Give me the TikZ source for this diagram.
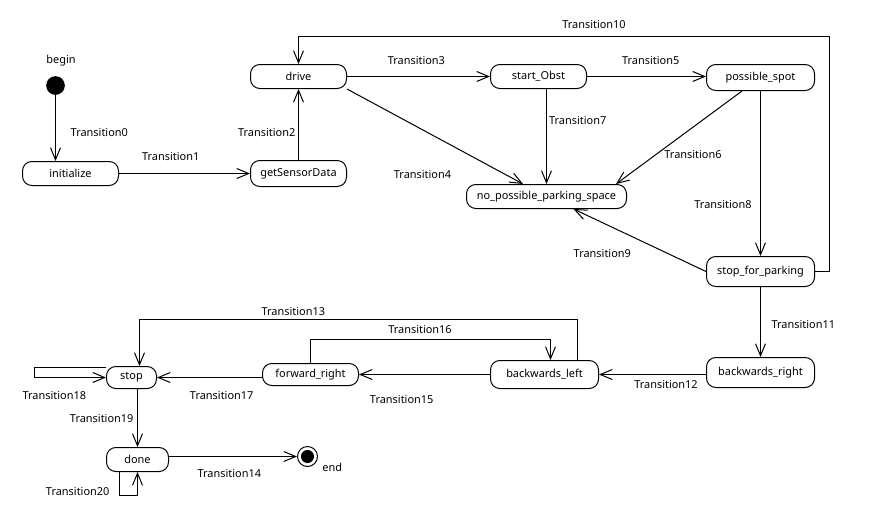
\documentclass[tikz,border=0pt]{standalone}
\usepackage{fontspec}
\setmainfont{Noto Sans}
\usetikzlibrary{arrows.meta,calc}
\begin{document}
\begin{tikzpicture}[x=0.75pt,y=-0.75pt,
  every node/.style={font=\fontsize{8.2}{10}\selectfont},
  state/.style={draw, rounded corners=7pt, inner sep=0pt, line width=0.75pt},
  box/.style 2 args={minimum width=#1*0.75pt, minimum height=#2*0.75pt},
  lbl/.style={inner sep=0pt},
  tr/.style={line width=0.75pt, -{Straight Barb[length=9pt,width=7.5pt,line width=0.75pt]}}]

% canvas
\fill[white] (0,0) rectangle (873,522);
\useasboundingbox (0,0) rectangle (873,522);

% pseudo states
\node[circle, fill=black, inner sep=0pt, minimum size=18.7*0.75pt] (begin) at (55.5,85.5) {};
\node[circle, draw, line width=0.75pt, inner sep=0pt, minimum size=20*0.75pt,
      path picture={\fill (path picture bounding box.center) circle (4.9pt);}] (endc) at (307.5,456.5) {};
\node[lbl] (beginlbl) at (61,61) {begin};
\node[lbl] (endlbl) at (332.3,467.7) {end};

% states
\node[state, box={96}{24}]  (init)   at (70.5,173.5)  {initialize};
\node[state, box={96}{26}]  (gsd)    at (298.5,173.5) {getSensorData};
\node[state, box={96}{24}]  (drive)  at (298.5,76.5)  {drive};
\node[state, box={96}{24}]  (sobst)  at (538.5,76.5)  {start\_Obst};
\node[state, box={108}{26}] (pspot)  at (760.5,77.5)  {possible\_spot};
\node[state, box={160}{24}] (nops)   at (546.5,196.5) {no\_possible\_parking\_space};
\node[state, box={108}{30}] (sfp)    at (760.5,271.5) {stop\_for\_parking};
\node[state, box={108}{30}] (bright) at (760.5,372.5) {backwards\_right};
\node[state, box={108}{28}] (bleft)  at (544.5,374.5) {backwards\_left};
\node[state, box={96}{22}]  (fright) at (310.5,374.5) {forward\_right};
\node[state, box={50}{22}]  (stop)   at (131.5,377.5) {stop};
\node[state, box={62}{24}]  (done)   at (137.5,459.5) {done};

% bend points of the routed transitions
\coordinate (t10) at (829.5,36.5);
\coordinate (t13) at (577.5,319.5);
\coordinate (t16) at (310.5,339.5);

% transitions
\draw[tr] (begin) -- (begin |- init.north);
\draw[tr] (init.east) -- (init.east -| gsd.west);
\draw[tr] (gsd.north) -- (drive.south);
\draw[tr] (drive.east) -- (drive.east -| sobst.west);
\draw[tr] (drive.south east) -- ($(nops.north west)+(57,0)$);
\draw[tr] (sobst.east) -- (sobst.east -| pspot.west);
\draw[tr] ($(pspot.south west)+(36,0)$) -- ($(nops.north east)+(-11,0)$);
\draw[tr] (nops.north |- sobst.south) -- (nops.north);
\draw[tr] (pspot.south) -- (sfp.north);
\draw[tr] (sfp.west) -- ($(nops.south)+(27,0)$);
\draw[tr] (sfp.east) -| (t10) -| (drive.north);
\draw[tr] (sfp.south) -- (bright.north);
\draw[tr] (bright.west |- bleft.east) -- (bleft.east);
\draw[tr] (bleft.north -| t13) -- (t13) -| ($(stop.north)+(8,0)$);
\draw[tr] (fright.north) -- (t16) -| ($(bleft.north)+(6,0)$);
\draw[tr] (bleft.west) -- (bleft.west -| fright.east);
\draw[tr] (fright.west |- stop.east) -- (stop.east);
\draw[tr] ($(stop.north west)+(0,1)$) -- ++(-72,0) |- (stop.west);
\draw[tr] (done.north |- stop.south) -- (done.north);
\draw[tr] ($(done.south)+(-18,0)$) -- ++(0,23.5) -| (done.south);
\draw[tr] (done.east |- endc) -- (endc);

% transition labels
\node[lbl] (l0)  at (99.3,132.7)  {Transition0};
\node[lbl] (l1)  at (170.7,156.7) {Transition1};
\node[lbl] (l2)  at (266.7,132.7) {Transition2};
\node[lbl] (l3)  at (416.4,61)    {Transition3};
\node[lbl] (l4)  at (422.5,174.5) {Transition4};
\node[lbl] (l5)  at (650.7,61)    {Transition5};
\node[lbl] (l6)  at (693,155)     {Transition6};
\node[lbl] (l7)  at (577.7,120.7) {Transition7};
\node[lbl] (l8)  at (723,204.5)   {Transition8};
\node[lbl] (l9)  at (602.3,253.3) {Transition9};
\node[lbl] (l10) at (594,25)      {Transition10};
\node[lbl] (l11) at (803.3,325)   {Transition11};
\node[lbl] (l12) at (666,384.3)   {Transition12};
\node[lbl] (l13) at (293.3,311.7) {Transition13};
\node[lbl] (l14) at (229.3,473.3) {Transition14};
\node[lbl] (l15) at (401.7,400)   {Transition15};
\node[lbl] (l16) at (420,329.3)   {Transition16};
\node[lbl] (l17) at (221.7,395.7) {Transition17};
\node[lbl] (l18) at (54.3,395.7)  {Transition18};
\node[lbl] (l19) at (101.7,419)   {Transition19};
\node[lbl] (l20) at (77.7,491.7)  {Transition20};
\end{tikzpicture}
\end{document}
